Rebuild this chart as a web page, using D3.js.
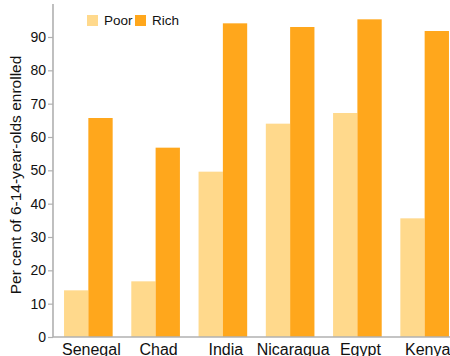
<!DOCTYPE html>
<html>
<head>
<meta charset="utf-8">
<script src="https://cdn.jsdelivr.net/npm/d3@7"></script>
<style>
  html, body { margin: 0; padding: 0; background: #fff; }
  svg { display: block; font-family: "Liberation Sans", Arial, Helvetica, sans-serif; }
</style>
</head>
<body>
<svg id="chart" width="450" height="356"></svg>
<script>
// School enrolment of 6-14-year-olds, poorest vs richest households
const countries = ["Senegal", "Chad", "India", "Nicaragua", "Egypt", "Kenya"];
const poor = [14, 16.7, 49.6, 64, 67.2, 35.6];
const rich = [65.7, 56.8, 94.1, 93, 95.3, 91.8];
const seriesNames = ["Poor", "Rich"];
const yTicks = [0, 10, 20, 30, 40, 50, 60, 70, 80, 90];
const colors = ["#ffd98c", "#ffa71c"];

const svg = d3.select("#chart");
const margin = { left: 53, top: 4, bottom: 337 };

const y = d3.scaleLinear().domain([0, 99.9]).range([margin.bottom, margin.top]);

const x = d3.scaleBand()
  .domain(countries)
  .range([53, 460])
  .paddingInner(0.277)
  .paddingOuter(0.164);

const xs = d3.scaleBand().domain(seriesNames).range([0, x.bandwidth()]);

const rows = countries.map((c, i) => ({ country: c, values: [poor[i], rich[i]] }));

// bars
const groups = svg.append("g").selectAll("g")
  .data(rows).join("g")
  .attr("transform", d => `translate(${x(d.country)},0)`);

groups.selectAll("rect")
  .data(d => d.values.map((v, j) => ({ key: seriesNames[j], value: v, j })))
  .join("rect")
  .attr("x", d => xs(d.key))
  .attr("width", xs.bandwidth())
  .attr("y", d => y(d.value))
  .attr("height", d => y(0) - y(d.value))
  .attr("fill", d => colors[d.j]);

// y axis
const yAxis = svg.append("g")
  .attr("transform", `translate(${margin.left},0)`)
  .call(d3.axisLeft(y).tickValues(yTicks).tickSize(5).tickPadding(2));
yAxis.select(".domain").attr("stroke", "#b0b0b0").attr("stroke-width", 1.6)
  .attr("d", `M0,${y(99.9)}V${y(0)}`);
yAxis.selectAll(".tick line").attr("stroke", "#b0b0b0").attr("stroke-width", 1.2);
yAxis.selectAll(".tick text").attr("fill", "#111").style("font-size", "14px");

// baseline
svg.append("line")
  .attr("x1", margin.left).attr("x2", 450)
  .attr("y1", y(0)).attr("y2", y(0))
  .attr("stroke", "#b0b0b0").attr("stroke-width", 1.6);

// category labels
svg.append("g").selectAll("text")
  .data(countries).join("text")
  .attr("x", d => x(d) + x.bandwidth() / 2 + 3)
  .attr("y", 355)
  .attr("text-anchor", "middle")
  .attr("fill", "#111")
  .style("font-size", "16px")
  .text(d => d);

// y axis title
svg.append("text")
  .attr("transform", "translate(21,175) rotate(-90)")
  .attr("text-anchor", "middle")
  .attr("fill", "#111")
  .style("font-size", "15.5px")
  .text("Per cent of 6-14-year-olds enrolled");

// legend
const legend = svg.append("g").attr("transform", "translate(87,15)");
const item = legend.selectAll("g").data(seriesNames).join("g")
  .attr("transform", (d, i) => `translate(${i * 48},0)`);
item.append("rect").attr("width", 11).attr("height", 11)
  .attr("fill", (d, i) => colors[i]);
item.append("text").attr("x", 17).attr("y", 10)
  .attr("fill", "#111").style("font-size", "13.5px")
  .text(d => d);
</script>
</body>
</html>
